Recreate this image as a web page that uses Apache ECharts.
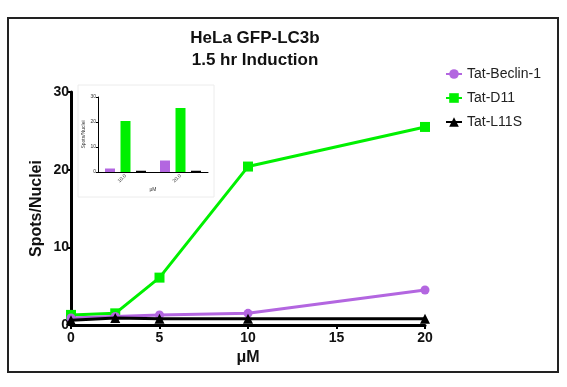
<!DOCTYPE html>
<html>
<head>
<meta charset="utf-8">
<script src="https://cdn.jsdelivr.net/npm/echarts@6/dist/echarts.min.js"></script>
<style>html,body{margin:0;padding:0;background:#fff;}#c{width:567px;height:387px;}</style>
</head>
<body>
<div id="c"></div>
<script>
var doses = [0, 2.5, 5, 10, 20];
var beclin = [0.9, 1.1, 1.3, 1.5, 4.5];
var d11 = [1.3, 1.5, 6.1, 20.4, 25.5];
var l11s = [0.6, 0.9, 0.8, 0.8, 0.8];
var insetCats = ['10.0', '20.0'];
var insetBeclin = [1.4, 4.6];
var insetD11 = [20.4, 25.6];
var insetL11s = [0.5, 0.5];
var seriesNames = ['Tat-Beclin-1', 'Tat-D11', 'Tat-L11S'];
var colors = ['#b366e0', '#00f000', '#000000'];

function pairs(xs, ys) { return xs.map(function (x, i) { return [x, ys[i]]; }); }

var font = 'Liberation Sans, Arial, sans-serif';
var chart = echarts.init(document.getElementById('c'), null, {renderer: 'canvas'});
chart.setOption({
  animation: false,
  backgroundColor: '#fff',
  textStyle: {fontFamily: font},
  title: {
    text: 'HeLa GFP-LC3b\n1.5 hr Induction',
    left: 250, top: 22, textAlign: 'center',
    textStyle: {fontSize: 17, fontWeight: 'bold', color: '#111', lineHeight: 22, fontFamily: font}
  },
  legend: {
    data: seriesNames,
    orient: 'vertical', left: 440, top: 62, itemGap: 10,
    itemWidth: 16, itemHeight: 12,
    textStyle: {fontSize: 14, color: '#222', fontFamily: font}
  },
  graphic: [
    {type: 'rect', shape: {x: 8, y: 18, width: 550, height: 354}, style: {fill: 'none', stroke: '#222', lineWidth: 2}, z: 100},
    {type: 'rect', shape: {x: 78, y: 85, width: 136, height: 112}, style: {fill: 'none', stroke: '#ececec', lineWidth: 1}, z: 0}
  ],
  grid: [
    {left: 71, right: 142, top: 92, bottom: 62},
    {left: 98, top: 97, width: 110, height: 75}
  ],
  xAxis: [
    {
      gridIndex: 0, type: 'value', min: 0, max: 20, interval: 5,
      name: 'μM', nameLocation: 'middle', nameGap: 24,
      nameTextStyle: {fontSize: 16, fontWeight: 'bold', color: '#111'},
      axisLine: {lineStyle: {color: '#000', width: 3}},
      axisTick: {show: true, length: 4, lineStyle: {color: '#000', width: 2}},
      axisLabel: {fontSize: 14, fontWeight: 'bold', color: '#111', margin: 6},
      splitLine: {show: false}
    },
    {
      gridIndex: 1, type: 'category', data: insetCats,
      name: 'μM', nameLocation: 'middle', nameGap: 14,
      nameTextStyle: {fontSize: 5, color: '#333'},
      axisLine: {lineStyle: {color: '#000', width: 1}},
      axisTick: {show: false},
      axisLabel: {fontSize: 5, color: '#333', rotate: 45, margin: 3}
    }
  ],
  yAxis: [
    {
      gridIndex: 0, type: 'value', min: 0, max: 30, interval: 10,
      name: 'Spots/Nuclei', nameLocation: 'middle', nameGap: 26, nameMoveOverlap: false,
      nameTextStyle: {fontSize: 16, fontWeight: 'bold', color: '#111'},
      axisLine: {show: true, lineStyle: {color: '#000', width: 3}},
      axisTick: {show: true, length: 4, lineStyle: {color: '#000', width: 2}},
      axisLabel: {fontSize: 14, fontWeight: 'bold', color: '#111', margin: 2},
      splitLine: {show: false}
    },
    {
      gridIndex: 1, type: 'value', min: 0, max: 30, interval: 10,
      name: 'Spots/Nuclei', nameLocation: 'middle', nameGap: 10,
      nameTextStyle: {fontSize: 5, color: '#333'},
      axisLine: {show: true, lineStyle: {color: '#000', width: 1}},
      axisTick: {show: true, length: 2, lineStyle: {color: '#000', width: 1}},
      axisLabel: {fontSize: 5, color: '#333', margin: 2},
      splitLine: {show: false}
    }
  ],
  series: [
    {name: seriesNames[0], type: 'line', xAxisIndex: 0, yAxisIndex: 0, data: pairs(doses, beclin),
     color: colors[0], symbol: 'circle', symbolSize: 9, lineStyle: {width: 3}, z: 3},
    {name: seriesNames[1], type: 'line', xAxisIndex: 0, yAxisIndex: 0, data: pairs(doses, d11),
     color: colors[1], symbol: 'rect', symbolSize: 10, lineStyle: {width: 3}, z: 2},
    {name: seriesNames[2], type: 'line', xAxisIndex: 0, yAxisIndex: 0, data: pairs(doses, l11s),
     color: colors[2], symbol: 'triangle', symbolSize: 10, lineStyle: {width: 3}, z: 4},
    {name: 'inset-b', type: 'bar', xAxisIndex: 1, yAxisIndex: 1, data: insetBeclin, color: colors[0],
     barWidth: 10, barGap: '55%'},
    {name: 'inset-d', type: 'bar', xAxisIndex: 1, yAxisIndex: 1, data: insetD11, color: colors[1],
     barWidth: 10, barGap: '55%'},
    {name: 'inset-l', type: 'bar', xAxisIndex: 1, yAxisIndex: 1, data: insetL11s, color: colors[2],
     barWidth: 10, barGap: '55%'}
  ]
});
</script>
</body>
</html>
